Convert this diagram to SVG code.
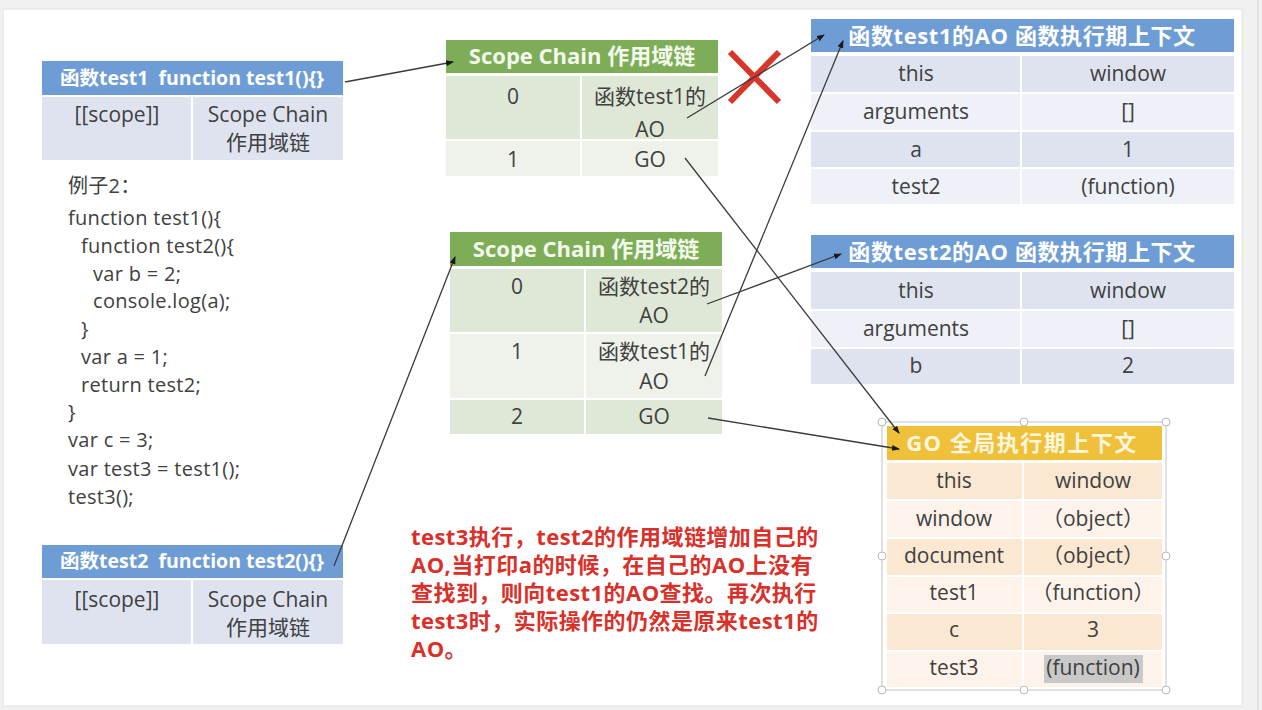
<svg xmlns="http://www.w3.org/2000/svg" width="1262" height="710" viewBox="0 0 1262 710">
<defs>
<style>
.t{font-family:"Open Sans","Noto Sans CJK SC",sans-serif;font-size:21px;fill:#404040;text-anchor:middle}
.h{font-family:"Open Sans","Noto Sans CJK SC",sans-serif;font-size:22px;font-weight:bold;fill:#ffffff;text-anchor:middle}
.h1{font-family:"Open Sans","Noto Sans CJK SC",sans-serif;font-size:19.5px;font-weight:bold;fill:#ffffff;text-anchor:middle;white-space:pre}
.code{font-family:"Open Sans","Noto Sans CJK SC",sans-serif;font-size:20px;letter-spacing:0.3px;fill:#404040}
.red{font-family:"Open Sans","Noto Sans CJK SC",sans-serif;font-size:22px;letter-spacing:0.45px;font-weight:bold;fill:#d9302a}
.bh{fill:#6e9dd5}
.b1{fill:#dee3ef}
.b2{fill:#eef1f7}
.gh{fill:#7dad57}
.g1{fill:#dfe8d7}
.g2{fill:#eef2ea}
.yh{fill:#efc13a}
.y1{fill:#fbe8d3}
.y2{fill:#fdf3ea}
.c{fill:none;stroke:#3a3a3a;stroke-width:1.3}
.hd{fill:#ffffff;stroke:#b8b8b8;stroke-width:1}
</style>
<marker id="ah" markerWidth="8" markerHeight="8" refX="7" refY="4" orient="auto" markerUnits="userSpaceOnUse">
<path d="M0,1 L8,4 L0,7 Z" fill="#1a1a1a"/>
</marker>
</defs>
<rect x="0" y="0" width="1262" height="710" fill="#f1f1f1"/>
<rect x="3" y="9" width="1239" height="697" fill="#ffffff" stroke="#e2e2e2" stroke-width="1"/>
<rect x="1257" y="0" width="2" height="710" fill="#e4e4e4"/>

<g id="test1-box">
<rect class="bh" x="42" y="61" width="301" height="34"/>
<rect class="b1" x="42" y="97" width="149" height="63"/>
<rect class="b1" x="193" y="97" width="150" height="63"/>
<text class="h1" x="192" y="85" xml:space="preserve">函数test1  function test1(){}</text>
<text class="t" x="117" y="122">[[scope]]</text>
<text class="t" x="268" y="122">Scope Chain</text>
<text class="t" x="268" y="150">作用域链</text>
</g>

<g id="code">
<text class="code" x="68" y="193">例子2：</text>
<text class="code" x="68" y="225">function test1(){</text>
<text class="code" x="81" y="253">function test2(){</text>
<text class="code" x="93" y="281">var b = 2;</text>
<text class="code" x="93" y="308">console.log(a);</text>
<text class="code" x="81" y="336">}</text>
<text class="code" x="81" y="364">var a = 1;</text>
<text class="code" x="81" y="392">return test2;</text>
<text class="code" x="68" y="419">}</text>
<text class="code" x="68" y="447">var c = 3;</text>
<text class="code" x="68" y="476">var test3 = test1();</text>
<text class="code" x="68" y="504">test3();</text>
</g>

<g id="test2-box">
<rect class="bh" x="42" y="545" width="301" height="33"/>
<rect class="b1" x="42" y="580" width="149" height="64"/>
<rect class="b1" x="193" y="580" width="150" height="64"/>
<text class="h1" x="192" y="568" xml:space="preserve">函数test2  function test2(){}</text>
<text class="t" x="117" y="607">[[scope]]</text>
<text class="t" x="268" y="607">Scope Chain</text>
<text class="t" x="268" y="635">作用域链</text>
</g>

<g id="scope-chain-1">
<rect class="gh" x="446" y="40" width="272" height="33"/>
<rect class="g1" x="446" y="76" width="134" height="63"/>
<rect class="g1" x="582" y="76" width="136" height="63"/>
<rect class="g2" x="446" y="141" width="134" height="35"/>
<rect class="g2" x="582" y="141" width="136" height="35"/>
<text class="h" x="582" y="64" style="fill:#f3f9ec">Scope Chain 作用域链</text>
<text class="t" x="513" y="104">0</text>
<text class="t" x="650" y="104">函数test1的</text>
<text class="t" x="650" y="137">AO</text>
<text class="t" x="513" y="167">1</text>
<text class="t" x="650" y="167">GO</text>
</g>

<g id="red-x">
<path d="M730,52 L779,102 M779,52 L730,102" stroke="#d9362b" stroke-width="6" fill="none"/>
</g>

<g id="scope-chain-2">
<rect class="gh" x="450" y="232" width="272" height="34"/>
<rect class="g1" x="450" y="269" width="134" height="63"/>
<rect class="g1" x="586" y="269" width="136" height="63"/>
<rect class="g2" x="450" y="334" width="134" height="64"/>
<rect class="g2" x="586" y="334" width="136" height="64"/>
<rect class="g1" x="450" y="400" width="134" height="34"/>
<rect class="g1" x="586" y="400" width="136" height="34"/>
<text class="h" x="586" y="257" style="fill:#f3f9ec">Scope Chain 作用域链</text>
<text class="t" x="517" y="294">0</text>
<text class="t" x="654" y="294">函数test2的</text>
<text class="t" x="654" y="323">AO</text>
<text class="t" x="517" y="359">1</text>
<text class="t" x="654" y="359">函数test1的</text>
<text class="t" x="654" y="389">AO</text>
<text class="t" x="517" y="424">2</text>
<text class="t" x="654" y="424">GO</text>
</g>

<g id="ao-test1">
<rect class="bh" x="811" y="19" width="423" height="33"/>
<rect class="b1" x="811" y="56" width="209" height="36"/>
<rect class="b1" x="1022" y="56" width="212" height="36"/>
<rect class="b2" x="811" y="94" width="209" height="36"/>
<rect class="b2" x="1022" y="94" width="212" height="36"/>
<rect class="b1" x="811" y="132" width="209" height="35"/>
<rect class="b1" x="1022" y="132" width="212" height="35"/>
<rect class="b2" x="811" y="169" width="209" height="35"/>
<rect class="b2" x="1022" y="169" width="212" height="35"/>
<text class="h" x="1022" y="44" style="letter-spacing:0.6px">函数test1的AO 函数执行期上下文</text>
<text class="t" x="916" y="81">this</text>
<text class="t" x="1128" y="81">window</text>
<text class="t" x="916" y="119">arguments</text>
<text class="t" x="1128" y="119">[]</text>
<text class="t" x="916" y="157">a</text>
<text class="t" x="1128" y="157">1</text>
<text class="t" x="916" y="194">test2</text>
<text class="t" x="1128" y="194">(function)</text>
</g>

<g id="ao-test2">
<rect class="bh" x="811" y="235" width="423" height="33"/>
<rect class="b1" x="811" y="272" width="209" height="37"/>
<rect class="b1" x="1022" y="272" width="212" height="37"/>
<rect class="b2" x="811" y="311" width="209" height="36"/>
<rect class="b2" x="1022" y="311" width="212" height="36"/>
<rect class="b1" x="811" y="349" width="209" height="35"/>
<rect class="b1" x="1022" y="349" width="212" height="35"/>
<text class="h" x="1022" y="260" style="letter-spacing:0.6px">函数test2的AO 函数执行期上下文</text>
<text class="t" x="916" y="298">this</text>
<text class="t" x="1128" y="298">window</text>
<text class="t" x="916" y="336">arguments</text>
<text class="t" x="1128" y="336">[]</text>
<text class="t" x="916" y="373">b</text>
<text class="t" x="1128" y="373">2</text>
</g>

<g id="go">
<rect class="yh" x="887" y="426" width="275" height="34"/>
<rect class="y1" x="887" y="463" width="135" height="36"/>
<rect class="y1" x="1024" y="463" width="138" height="36"/>
<rect class="y2" x="887" y="501" width="135" height="36"/>
<rect class="y2" x="1024" y="501" width="138" height="36"/>
<rect class="y1" x="887" y="539" width="135" height="36"/>
<rect class="y1" x="1024" y="539" width="138" height="36"/>
<rect class="y2" x="887" y="577" width="135" height="35"/>
<rect class="y2" x="1024" y="577" width="138" height="35"/>
<rect class="y1" x="887" y="614" width="135" height="36"/>
<rect class="y1" x="1024" y="614" width="138" height="36"/>
<rect class="y2" x="887" y="652" width="135" height="35"/>
<rect class="y2" x="1024" y="652" width="138" height="35"/>
<rect x="1044" y="655" width="99" height="28" fill="#c9c9c9"/>
<text class="h" x="1022" y="451" style="fill:#fdf6dc;letter-spacing:1.5px">GO 全局执行期上下文</text>
<text class="t" x="954" y="488">this</text>
<text class="t" x="1093" y="488">window</text>
<text class="t" x="954" y="526">window</text>
<text class="t" x="1093" y="526">（object）</text>
<text class="t" x="954" y="563">document</text>
<text class="t" x="1093" y="563">（object）</text>
<text class="t" x="954" y="600">test1</text>
<text class="t" x="1093" y="600">（function）</text>
<text class="t" x="954" y="637">c</text>
<text class="t" x="1093" y="637">3</text>
<text class="t" x="954" y="675">test3</text>
<text class="t" x="1093" y="675">(function)</text>
<rect x="882" y="422" width="284" height="268" fill="none" stroke="#c4c4c4" stroke-width="1"/>
<circle class="hd" cx="882" cy="422" r="4"/>
<circle class="hd" cx="1024" cy="422" r="4"/>
<circle class="hd" cx="1166" cy="422" r="4"/>
<circle class="hd" cx="882" cy="556" r="4"/>
<circle class="hd" cx="1166" cy="556" r="4"/>
<circle class="hd" cx="882" cy="690" r="4"/>
<circle class="hd" cx="1024" cy="690" r="4"/>
<circle class="hd" cx="1166" cy="690" r="4"/>
</g>

<g id="note">
<text class="red" x="411" y="545">test3执行，test2的作用域链增加自己的</text>
<text class="red" x="411" y="573">AO,当打印a的时候，在自己的AO上没有</text>
<text class="red" x="411" y="601">查找到，则向test1的AO查找。再次执行</text>
<text class="red" x="411" y="629">test3时，实际操作的仍然是原来test1的</text>
<text class="red" x="411" y="657">AO。</text>
</g>

<g id="connectors">
<line class="c" x1="345" y1="82" x2="453" y2="62" marker-end="url(#ah)"/>
<line class="c" x1="687" y1="118" x2="824" y2="35" marker-end="url(#ah)"/>
<line class="c" x1="685" y1="158" x2="899" y2="433" marker-end="url(#ah)"/>
<line class="c" x1="334" y1="566" x2="455" y2="257" marker-end="url(#ah)"/>
<line class="c" x1="707" y1="304" x2="841" y2="254" marker-end="url(#ah)"/>
<line class="c" x1="705" y1="376" x2="843" y2="41" marker-end="url(#ah)"/>
<line class="c" x1="708" y1="418" x2="899" y2="449" marker-end="url(#ah)"/>
</g>
</svg>
